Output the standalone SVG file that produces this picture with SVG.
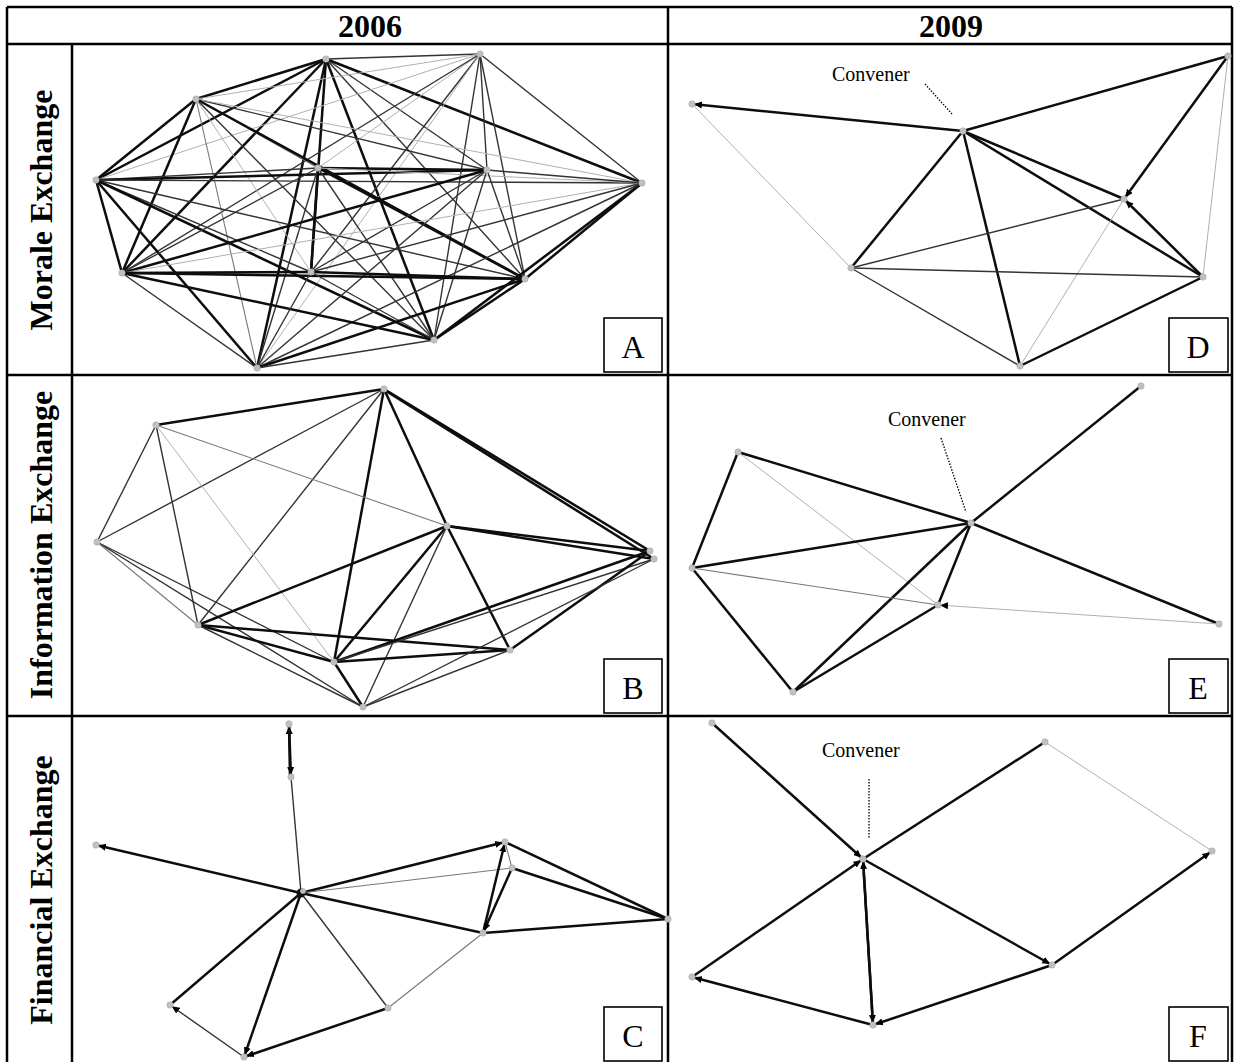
<svg xmlns="http://www.w3.org/2000/svg" width="1235" height="1062" viewBox="0 0 1235 1062">
<defs>
<style>
.grid{stroke:#000;stroke-width:2.5;fill:none}
.hd{font-family:"Liberation Serif","Times New Roman",serif;font-weight:bold;font-size:32px;fill:#000;text-anchor:middle}
.lb{font-family:"Liberation Serif","Times New Roman",serif;font-size:32px;fill:#000;text-anchor:middle}
.cv{font-family:"Liberation Serif","Times New Roman",serif;font-size:20px;fill:#000}
.box{fill:#fff;stroke:#000;stroke-width:1.6}
.k{stroke:#0d0d0d;stroke-width:2.5;fill:none}
.m{stroke:#333;stroke-width:1.4;fill:none}
.g{stroke:#777;stroke-width:1.1;fill:none}
.l{stroke:#b0b0b0;stroke-width:1;fill:none}
.dot{stroke:#000;stroke-width:1.3;stroke-dasharray:1.5 1.5;fill:none}
.nd{fill:#c0c0c0;stroke:#aaa;stroke-width:0.6}
</style>
<marker id="ah" viewBox="0 0 8 8" refX="10" refY="4" markerWidth="8" markerHeight="8" markerUnits="userSpaceOnUse" orient="auto">
<path d="M0,0.5 L8,4 L0,7.5 z" fill="#000"/>
</marker>
</defs>
<rect width="1235" height="1062" fill="#fff"/>

<g id="table">
<line class="grid" x1="7" y1="7" x2="1232" y2="7"/>
<line class="grid" x1="7" y1="44" x2="1232" y2="44"/>
<line class="grid" x1="7" y1="375" x2="1232" y2="375"/>
<line class="grid" x1="7" y1="716" x2="1232" y2="716"/>
<line class="grid" x1="7" y1="7" x2="7" y2="1066"/>
<line class="grid" x1="72" y1="44" x2="72" y2="1066"/>
<line class="grid" x1="668" y1="7" x2="668" y2="1066"/>
<line class="grid" x1="1232" y1="7" x2="1232" y2="1066"/>
<text class="hd" x="370" y="37">2006</text>
<text class="hd" x="951" y="37">2009</text>
<text class="hd" transform="translate(52,210) rotate(-90)">Morale Exchange</text>
<text class="hd" transform="translate(52,545) rotate(-90)">Information Exchange</text>
<text class="hd" transform="translate(52,890) rotate(-90)">Financial Exchange</text>
</g>

<g id="connectors">
<!-- Panel A -->
<line class="m" x1="326" y1="59" x2="480" y2="54"/>
<line class="k" x1="326" y1="59" x2="196" y2="99"/>
<line class="k" x1="326" y1="59" x2="96" y2="180"/>
<line class="g" x1="326" y1="59" x2="318" y2="168"/>
<line class="m" x1="326" y1="59" x2="487" y2="170"/>
<line class="k" x1="326" y1="59" x2="642" y2="183"/>
<line class="k" x1="326" y1="59" x2="122" y2="273"/>
<line class="k" x1="326" y1="59" x2="311" y2="272"/>
<line class="m" x1="326" y1="59" x2="525" y2="279"/>
<line class="k" x1="326" y1="59" x2="434" y2="340"/>
<line class="k" x1="326" y1="59" x2="257" y2="368"/>
<line class="l" x1="480" y1="54" x2="196" y2="99"/>
<line class="l" x1="480" y1="54" x2="96" y2="180"/>
<line class="l" x1="480" y1="54" x2="318" y2="168"/>
<line class="m" x1="480" y1="54" x2="487" y2="170"/>
<line class="m" x1="480" y1="54" x2="642" y2="183"/>
<line class="m" x1="480" y1="54" x2="122" y2="273"/>
<line class="m" x1="480" y1="54" x2="311" y2="272"/>
<line class="m" x1="480" y1="54" x2="525" y2="279"/>
<line class="m" x1="480" y1="54" x2="434" y2="340"/>
<line class="l" x1="480" y1="54" x2="257" y2="368"/>
<line class="k" x1="196" y1="99" x2="96" y2="180"/>
<line class="g" x1="196" y1="99" x2="318" y2="168"/>
<line class="m" x1="196" y1="99" x2="487" y2="170"/>
<line class="l" x1="196" y1="99" x2="642" y2="183"/>
<line class="k" x1="196" y1="99" x2="122" y2="273"/>
<line class="l" x1="196" y1="99" x2="311" y2="272"/>
<line class="k" x1="196" y1="99" x2="525" y2="279"/>
<line class="m" x1="196" y1="99" x2="434" y2="340"/>
<line class="g" x1="196" y1="99" x2="257" y2="368"/>
<line class="m" x1="96" y1="180" x2="318" y2="168"/>
<line class="k" x1="96" y1="180" x2="487" y2="170"/>
<line class="m" x1="96" y1="180" x2="642" y2="183"/>
<line class="k" x1="96" y1="180" x2="122" y2="273"/>
<line class="m" x1="96" y1="180" x2="311" y2="272"/>
<line class="m" x1="96" y1="180" x2="525" y2="279"/>
<line class="k" x1="96" y1="180" x2="434" y2="340"/>
<line class="k" x1="96" y1="180" x2="257" y2="368"/>
<line class="k" x1="318" y1="168" x2="487" y2="170"/>
<line class="l" x1="318" y1="168" x2="642" y2="183"/>
<line class="m" x1="318" y1="168" x2="122" y2="273"/>
<line class="k" x1="318" y1="168" x2="311" y2="272"/>
<line class="k" x1="318" y1="168" x2="525" y2="279"/>
<line class="m" x1="318" y1="168" x2="434" y2="340"/>
<line class="m" x1="318" y1="168" x2="257" y2="368"/>
<line class="m" x1="487" y1="170" x2="642" y2="183"/>
<line class="k" x1="487" y1="170" x2="122" y2="273"/>
<line class="m" x1="487" y1="170" x2="311" y2="272"/>
<line class="m" x1="487" y1="170" x2="525" y2="279"/>
<line class="m" x1="487" y1="170" x2="434" y2="340"/>
<line class="m" x1="487" y1="170" x2="257" y2="368"/>
<line class="l" x1="642" y1="183" x2="122" y2="273"/>
<line class="m" x1="642" y1="183" x2="311" y2="272"/>
<line class="k" x1="642" y1="183" x2="525" y2="279"/>
<line class="k" x1="642" y1="183" x2="434" y2="340"/>
<line class="m" x1="642" y1="183" x2="257" y2="368"/>
<line class="k" x1="122" y1="273" x2="311" y2="272"/>
<line class="k" x1="122" y1="273" x2="525" y2="279"/>
<line class="k" x1="122" y1="273" x2="434" y2="340"/>
<line class="m" x1="122" y1="273" x2="257" y2="368"/>
<line class="k" x1="311" y1="272" x2="525" y2="279"/>
<line class="m" x1="311" y1="272" x2="434" y2="340"/>
<line class="m" x1="311" y1="272" x2="257" y2="368"/>
<line class="k" x1="525" y1="279" x2="434" y2="340"/>
<line class="k" x1="525" y1="279" x2="257" y2="368"/>
<line class="m" x1="434" y1="340" x2="257" y2="368"/>

<!-- Panel B -->
<line class="k" x1="384" y1="389" x2="156" y2="425"/>
<line class="m" x1="384" y1="389" x2="97" y2="542"/>
<line class="m" x1="384" y1="389" x2="198" y2="625"/>
<line class="k" x1="384" y1="389" x2="334" y2="662"/>
<line class="k" x1="384" y1="389" x2="447" y2="526"/>
<line class="k" x1="384" y1="389" x2="650" y2="551"/>
<line class="k" x1="386" y1="391" x2="654" y2="559"/>
<line class="m" x1="156" y1="425" x2="97" y2="542"/>
<line class="m" x1="156" y1="425" x2="198" y2="625"/>
<line class="l" x1="156" y1="425" x2="334" y2="662"/>
<line class="g" x1="156" y1="425" x2="447" y2="526"/>
<line class="m" x1="97" y1="542" x2="334" y2="662"/>
<line class="m" x1="97" y1="542" x2="363" y2="707"/>
<line class="g" x1="97" y1="542" x2="198" y2="625"/>
<line class="k" x1="447" y1="526" x2="650" y2="551"/>
<line class="k" x1="447" y1="526" x2="654" y2="559"/>
<line class="k" x1="447" y1="526" x2="198" y2="625"/>
<line class="k" x1="447" y1="526" x2="334" y2="662"/>
<line class="m" x1="447" y1="526" x2="363" y2="707"/>
<line class="k" x1="447" y1="526" x2="510" y2="650"/>
<line class="k" x1="198" y1="625" x2="510" y2="650"/>
<line class="k" x1="198" y1="625" x2="334" y2="662"/>
<line class="m" x1="198" y1="625" x2="363" y2="707"/>
<line class="k" x1="334" y1="662" x2="510" y2="650"/>
<line class="k" x1="334" y1="662" x2="650" y2="551"/>
<line class="m" x1="334" y1="662" x2="654" y2="559"/>
<line class="k" x1="334" y1="662" x2="363" y2="707"/>
<line class="k" x1="650" y1="551" x2="510" y2="650"/>
<line class="m" x1="654" y1="559" x2="363" y2="707"/>
<line class="m" x1="510" y1="650" x2="363" y2="707"/>

<!-- Panel C -->
<line class="k" x1="290" y1="777" x2="289" y2="724" marker-end="url(#ah)"/>
<line class="k" x1="289" y1="724" x2="291" y2="777" marker-end="url(#ah)"/>
<line class="m" x1="291" y1="777" x2="301" y2="893"/>
<line class="k" x1="301" y1="893" x2="96" y2="845" marker-end="url(#ah)"/>
<line class="k" x1="301" y1="893" x2="505" y2="842" marker-end="url(#ah)"/>
<line class="g" x1="301" y1="893" x2="512" y2="868"/>
<line class="k" x1="301" y1="893" x2="483" y2="933"/>
<line class="k" x1="301" y1="893" x2="170" y2="1005"/>
<line class="k" x1="301" y1="893" x2="244" y2="1057" marker-end="url(#ah)"/>
<line class="m" x1="301" y1="893" x2="388" y2="1008"/>
<line class="k" x1="483" y1="933" x2="505" y2="842" marker-end="url(#ah)"/>
<line class="k" x1="512" y1="868" x2="483" y2="933" marker-end="url(#ah)"/>
<line class="g" x1="505" y1="842" x2="512" y2="868"/>
<line class="k" x1="505" y1="842" x2="668" y2="919"/>
<line class="k" x1="512" y1="868" x2="668" y2="919"/>
<line class="k" x1="483" y1="933" x2="668" y2="919"/>
<line class="g" x1="483" y1="933" x2="388" y2="1008"/>
<line class="k" x1="388" y1="1008" x2="244" y2="1057" marker-end="url(#ah)"/>
<line class="m" x1="244" y1="1057" x2="170" y2="1005" marker-end="url(#ah)"/>

<!-- Panel D -->
<line class="k" x1="963" y1="131" x2="692" y2="104" marker-end="url(#ah)"/>
<line class="l" x1="692" y1="104" x2="851" y2="268"/>
<line class="k" x1="963" y1="131" x2="1228" y2="56"/>
<line class="k" x1="963" y1="131" x2="851" y2="268"/>
<line class="k" x1="963" y1="131" x2="1020" y2="366"/>
<line class="k" x1="963" y1="131" x2="1124" y2="199"/>
<line class="k" x1="963" y1="131" x2="1203" y2="277"/>
<line class="k" x1="1228" y1="56" x2="1124" y2="199" marker-end="url(#ah)"/>
<line class="l" x1="1228" y1="56" x2="1203" y2="277"/>
<line class="k" x1="1203" y1="277" x2="1124" y2="199" marker-end="url(#ah)"/>
<line class="m" x1="1124" y1="199" x2="851" y2="268"/>
<line class="l" x1="1124" y1="199" x2="1020" y2="366"/>
<line class="m" x1="851" y1="268" x2="1203" y2="277"/>
<line class="m" x1="851" y1="268" x2="1020" y2="366"/>
<line class="k" x1="1020" y1="366" x2="1203" y2="277"/>
<line class="dot" x1="925" y1="84" x2="952" y2="114"/>

<!-- Panel E -->
<line class="k" x1="1141" y1="386" x2="971" y2="523"/>
<line class="k" x1="738" y1="452" x2="971" y2="523"/>
<line class="k" x1="738" y1="452" x2="692" y2="568"/>
<line class="l" x1="738" y1="452" x2="938" y2="605"/>
<line class="k" x1="971" y1="523" x2="692" y2="568"/>
<line class="k" x1="971" y1="523" x2="1219" y2="624"/>
<line class="k" x1="971" y1="523" x2="938" y2="605"/>
<line class="k" x1="971" y1="523" x2="793" y2="692"/>
<line class="g" x1="692" y1="568" x2="938" y2="605"/>
<line class="k" x1="692" y1="568" x2="793" y2="692"/>
<line class="k" x1="793" y1="692" x2="938" y2="605"/>
<line class="l" x1="1219" y1="624" x2="938" y2="605" marker-end="url(#ah)"/>
<line class="dot" x1="941" y1="438" x2="966" y2="512"/>

<!-- Panel F -->
<line class="k" x1="712" y1="723" x2="863" y2="859" marker-end="url(#ah)"/>
<line class="k" x1="1045" y1="742" x2="863" y2="859"/>
<line class="l" x1="1045" y1="742" x2="1212" y2="851"/>
<line class="k" x1="692" y1="977" x2="863" y2="859" marker-end="url(#ah)"/>
<line class="k" x1="863" y1="859" x2="873" y2="1025" marker-end="url(#ah)"/>
<line class="k" x1="873" y1="1025" x2="863" y2="859" marker-end="url(#ah)"/>
<line class="k" x1="863" y1="859" x2="1052" y2="965" marker-end="url(#ah)"/>
<line class="k" x1="1052" y1="965" x2="1212" y2="851" marker-end="url(#ah)"/>
<line class="k" x1="1052" y1="965" x2="873" y2="1025" marker-end="url(#ah)"/>
<line class="k" x1="873" y1="1025" x2="692" y2="977" marker-end="url(#ah)"/>
<line class="dot" x1="869" y1="779" x2="869" y2="838"/>
</g>

<!-- Panel A nodes -->
<g id="A-n1"><circle class="nd" cx="326" cy="59" r="3.2"/></g>
<g id="A-n2"><circle class="nd" cx="480" cy="54" r="3.2"/></g>
<g id="A-n3"><circle class="nd" cx="196" cy="99" r="3.2"/></g>
<g id="A-n4"><circle class="nd" cx="96" cy="180" r="3.2"/></g>
<g id="A-n5"><circle class="nd" cx="318" cy="168" r="3.2"/></g>
<g id="A-n6"><circle class="nd" cx="487" cy="170" r="3.2"/></g>
<g id="A-n7"><circle class="nd" cx="642" cy="183" r="3.2"/></g>
<g id="A-n8"><circle class="nd" cx="122" cy="273" r="3.2"/></g>
<g id="A-n9"><circle class="nd" cx="311" cy="272" r="3.2"/></g>
<g id="A-n10"><circle class="nd" cx="525" cy="279" r="3.2"/></g>
<g id="A-n11"><circle class="nd" cx="434" cy="340" r="3.2"/></g>
<g id="A-n12"><circle class="nd" cx="257" cy="368" r="3.2"/></g>

<!-- Panel B nodes -->
<g id="B-n1"><circle class="nd" cx="384" cy="389" r="3.2"/></g>
<g id="B-n2"><circle class="nd" cx="156" cy="425" r="3.2"/></g>
<g id="B-n3"><circle class="nd" cx="447" cy="526" r="3.2"/></g>
<g id="B-n4"><circle class="nd" cx="650" cy="551" r="3.2"/></g>
<g id="B-n5"><circle class="nd" cx="654" cy="559" r="3.2"/></g>
<g id="B-n6"><circle class="nd" cx="97" cy="542" r="3.2"/></g>
<g id="B-n7"><circle class="nd" cx="198" cy="625" r="3.2"/></g>
<g id="B-n8"><circle class="nd" cx="510" cy="650" r="3.2"/></g>
<g id="B-n9"><circle class="nd" cx="334" cy="662" r="3.2"/></g>
<g id="B-n10"><circle class="nd" cx="363" cy="707" r="3.2"/></g>

<!-- Panel C nodes -->
<g id="C-n1"><circle class="nd" cx="289" cy="724" r="3.2"/></g>
<g id="C-n2"><circle class="nd" cx="291" cy="777" r="3.2"/></g>
<g id="C-n3"><circle class="nd" cx="96" cy="845" r="3.2"/></g>
<g id="C-n4"><circle cx="301" cy="893" r="4.5" fill="#111"/><circle class="nd" cx="303" cy="891" r="2.6"/></g>
<g id="C-n5"><circle class="nd" cx="505" cy="842" r="3.2"/></g>
<g id="C-n6"><circle class="nd" cx="512" cy="868" r="3.2"/></g>
<g id="C-n7"><circle class="nd" cx="668" cy="919" r="3.2"/></g>
<g id="C-n8"><circle class="nd" cx="483" cy="933" r="3.2"/></g>
<g id="C-n9"><circle class="nd" cx="388" cy="1008" r="3.2"/></g>
<g id="C-n10"><circle class="nd" cx="170" cy="1005" r="3.2"/></g>
<g id="C-n11"><circle class="nd" cx="244" cy="1057" r="3.2"/></g>

<!-- Panel D nodes -->
<g id="D-n1"><circle class="nd" cx="692" cy="104" r="3.2"/></g>
<g id="D-convener"><circle class="nd" cx="963" cy="131" r="3.2"/></g>
<g id="D-n3"><circle class="nd" cx="1228" cy="56" r="3.2"/></g>
<g id="D-n4"><circle class="nd" cx="1124" cy="199" r="3.2"/></g>
<g id="D-n5"><circle class="nd" cx="851" cy="268" r="3.2"/></g>
<g id="D-n6"><circle class="nd" cx="1203" cy="277" r="3.2"/></g>
<g id="D-n7"><circle class="nd" cx="1020" cy="366" r="3.2"/></g>

<!-- Panel E nodes -->
<g id="E-n1"><circle class="nd" cx="1141" cy="386" r="3.2"/></g>
<g id="E-n2"><circle class="nd" cx="738" cy="452" r="3.2"/></g>
<g id="E-convener"><circle class="nd" cx="971" cy="523" r="3.2"/></g>
<g id="E-n4"><circle class="nd" cx="692" cy="568" r="3.2"/></g>
<g id="E-n5"><circle class="nd" cx="938" cy="605" r="3.2"/></g>
<g id="E-n6"><circle class="nd" cx="1219" cy="624" r="3.2"/></g>
<g id="E-n7"><circle class="nd" cx="793" cy="692" r="3.2"/></g>

<!-- Panel F nodes -->
<g id="F-n1"><circle class="nd" cx="712" cy="723" r="3.2"/></g>
<g id="F-n2"><circle class="nd" cx="1045" cy="742" r="3.2"/></g>
<g id="F-convener"><circle class="nd" cx="863" cy="859" r="3.2"/></g>
<g id="F-n4"><circle class="nd" cx="1212" cy="851" r="3.2"/></g>
<g id="F-n5"><circle class="nd" cx="1052" cy="965" r="3.2"/></g>
<g id="F-n6"><circle class="nd" cx="692" cy="977" r="3.2"/></g>
<g id="F-n7"><circle class="nd" cx="873" cy="1025" r="3.2"/></g>

<g id="convener-labels">
<text class="cv" x="832" y="81">Convener</text>
<text class="cv" x="888" y="426">Convener</text>
<text class="cv" x="822" y="757">Convener</text>
</g>

<g id="label-A"><rect class="box" x="604" y="318" width="58" height="54"/><text class="lb" x="633" y="358">A</text></g>
<g id="label-B"><rect class="box" x="604" y="659" width="58" height="54"/><text class="lb" x="633" y="699">B</text></g>
<g id="label-C"><rect class="box" x="604" y="1007" width="58" height="54"/><text class="lb" x="633" y="1047">C</text></g>
<g id="label-D"><rect class="box" x="1169" y="318" width="59" height="54"/><text class="lb" x="1198" y="358">D</text></g>
<g id="label-E"><rect class="box" x="1169" y="659" width="59" height="54"/><text class="lb" x="1198" y="699">E</text></g>
<g id="label-F"><rect class="box" x="1169" y="1007" width="59" height="54"/><text class="lb" x="1198" y="1047">F</text></g>
</svg>
